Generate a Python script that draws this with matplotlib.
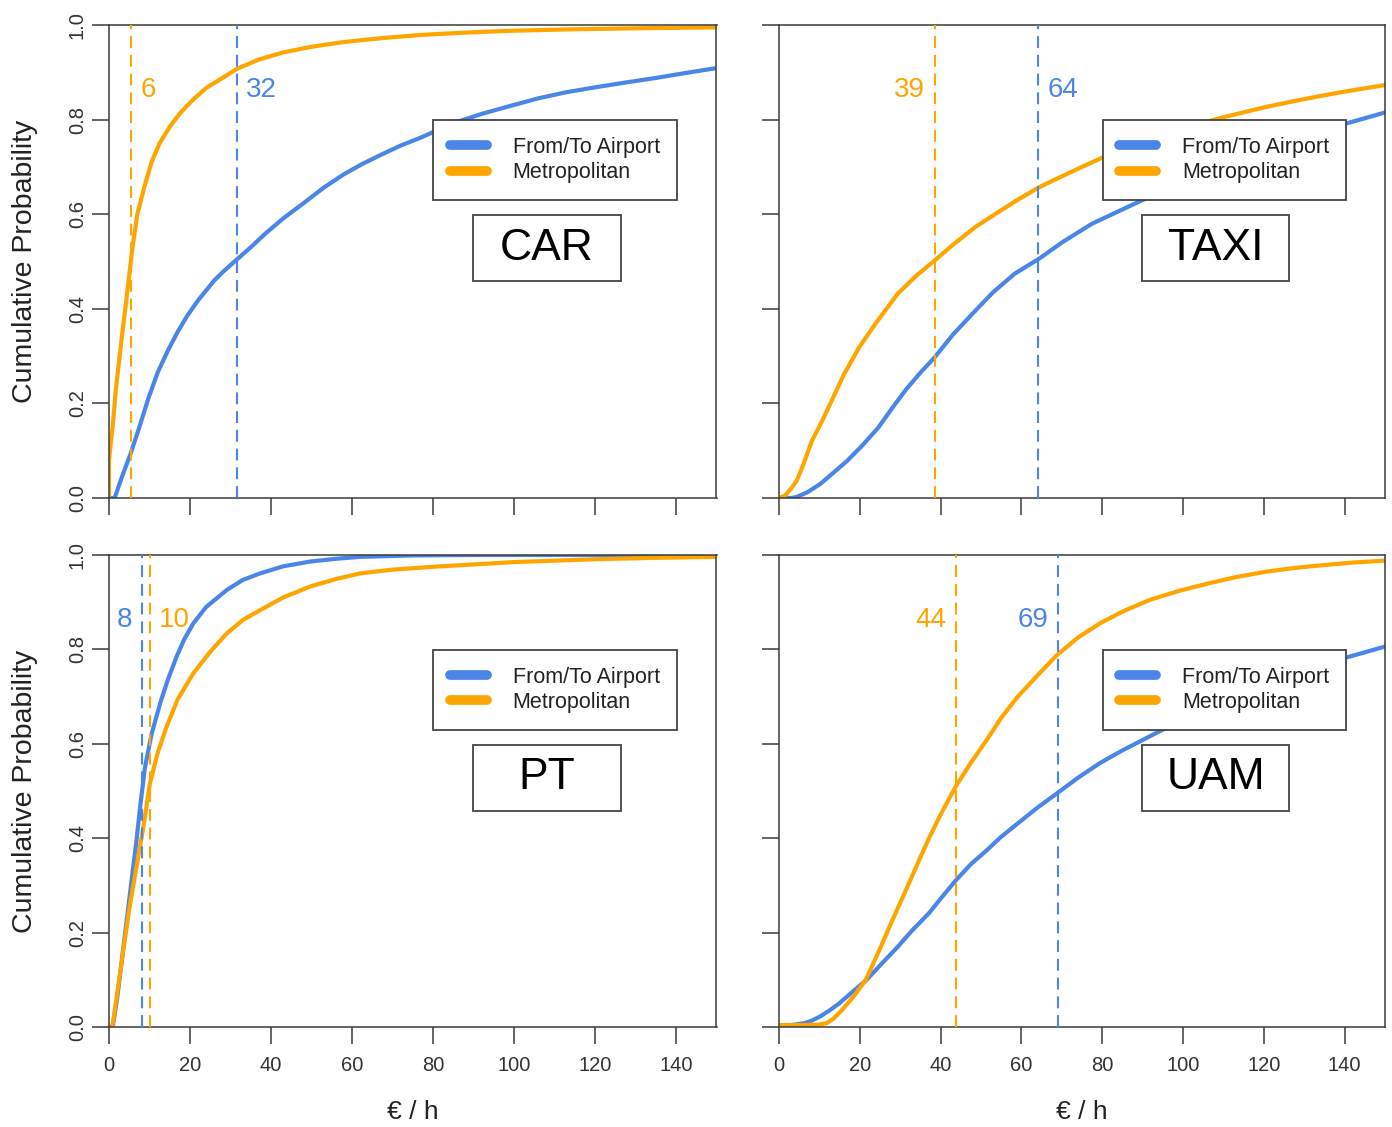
import numpy as np
import matplotlib
matplotlib.use('Agg')
import matplotlib.pyplot as plt
from matplotlib.lines import Line2D
from matplotlib.patches import Rectangle

plt.rcParams['font.family'] = ['Liberation Sans', 'DejaVu Sans']

BLUE = '#4A86E8'
ORANGE = '#FFA500'
DARK = '#3a3a3a'

series_labels = ['From/To Airport', 'Metropolitan']
panel_titles = ['CAR', 'TAXI', 'PT', 'UAM']
x_ticks = [0, 20, 40, 60, 80, 100, 120, 140]
y_ticks = [0.0, 0.2, 0.4, 0.6, 0.8, 1.0]
y_tick_labels = ['0.0', '0.2', '0.4', '0.6', '0.8', '1.0']

# ---- CAR ----
car_air_x = [0.5, 1.4, 3, 5.3, 7.5, 9.7, 12, 14.5, 17, 19.3, 22, 24.1, 26, 28, 31.4, 35, 38.6, 43, 48.3,
             53, 57.9, 62.5, 67.5, 72, 77, 82, 87, 92, 97, 106, 113, 120.6, 128, 135, 142, 150]
car_air_p = [0, 0, 0.04, 0.093, 0.15, 0.21, 0.265, 0.311, 0.352, 0.385, 0.418, 0.44, 0.46, 0.477, 0.503,
             0.53, 0.559, 0.591, 0.625, 0.656, 0.684, 0.706, 0.727, 0.745, 0.762, 0.781, 0.798, 0.812,
             0.824, 0.845, 0.858, 0.869, 0.879, 0.888, 0.898, 0.909]
car_met_x = [0, 0, 0.5, 1, 1.7, 2.5, 3.3, 4.3, 5.8, 7, 8.7, 10.5, 12.5, 15, 17.5, 20.5, 24, 28, 31.5,
             37, 43, 50, 58, 67, 77, 88, 100, 115, 130, 150]
car_met_p = [0, 0.08, 0.12, 0.16, 0.23, 0.29, 0.35, 0.42, 0.53, 0.6, 0.657, 0.71, 0.75, 0.785, 0.813,
             0.84, 0.867, 0.888, 0.907, 0.927, 0.942, 0.954, 0.964, 0.972, 0.979, 0.984, 0.988, 0.991,
             0.993, 0.995]

# ---- TAXI ----
taxi_air_x = [0, 3, 4.3, 7, 10.1, 13, 16.8, 20.5, 24.6, 28, 31.5, 35, 38.5, 43, 48.6, 53, 58.3, 64.4,
              70, 77.5, 84, 90, 100, 110, 120, 130, 140.5, 150]
taxi_air_p = [0, 0, 0.002, 0.012, 0.029, 0.05, 0.078, 0.11, 0.149, 0.19, 0.23, 0.265, 0.297, 0.345,
              0.396, 0.435, 0.474, 0.506, 0.54, 0.58, 0.606, 0.63, 0.664, 0.697, 0.729, 0.76, 0.792, 0.815]
taxi_met_x = [0, 1.5, 3, 4.35, 6, 8.15, 10.5, 13, 16, 19.8, 24, 29.4, 34, 38.5, 43, 48.6, 54, 59, 64.4,
              70, 75, 80.4, 86, 92, 101.5, 110, 120.7, 128, 135.3, 142, 150]
taxi_met_p = [0, 0.005, 0.02, 0.036, 0.07, 0.121, 0.16, 0.205, 0.26, 0.318, 0.37, 0.432, 0.47, 0.502,
              0.535, 0.573, 0.603, 0.63, 0.657, 0.68, 0.70, 0.721, 0.74, 0.758, 0.785, 0.805, 0.827,
              0.84, 0.852, 0.862, 0.873]

# ---- PT ----
pt_air_x = [0.5, 1, 2, 3, 4, 5, 6, 6.8, 7.8, 8.9, 10.5, 12.6, 14.5, 16.7, 18.5, 20.8, 24, 29.1, 33,
            37.3, 43, 49.6, 56, 62, 75, 90, 110, 150]
pt_air_p = [0, 0.005, 0.06, 0.13, 0.2, 0.27, 0.34, 0.396, 0.475, 0.551, 0.62, 0.685, 0.735, 0.785,
            0.82, 0.855, 0.89, 0.926, 0.947, 0.961, 0.976, 0.986, 0.992, 0.996, 0.999, 1.0, 1.0, 1.0]
pt_met_x = [0.7, 1, 2, 3, 4, 5, 6, 7, 8.5, 10.1, 12, 14.2, 17, 20.8, 25, 29.1, 33, 37.3, 43, 49.6, 56,
            62, 70, 80, 90, 100, 120, 135, 150]
pt_met_p = [0, 0.01, 0.07, 0.13, 0.19, 0.25, 0.3, 0.35, 0.424, 0.516, 0.58, 0.636, 0.695, 0.749, 0.795,
            0.834, 0.862, 0.883, 0.91, 0.933, 0.949, 0.961, 0.969, 0.975, 0.98, 0.985, 0.991, 0.994, 0.996]

# ---- UAM ----
uam_air_x = [0, 3, 6.2, 8, 10.1, 12.5, 14.9, 18, 21.7, 25.5, 29.4, 33, 37.1, 40.5, 43.8, 47.5, 51.5, 55,
             59.2, 64, 68.8, 74, 79.4, 85, 90, 95, 105, 115, 125, 133, 140.5, 150]
uam_air_p = [0.004, 0.004, 0.008, 0.013, 0.022, 0.035, 0.05, 0.073, 0.1, 0.135, 0.17, 0.205, 0.241,
             0.277, 0.311, 0.345, 0.375, 0.403, 0.432, 0.465, 0.495, 0.528, 0.559, 0.586, 0.608, 0.63,
             0.665, 0.698, 0.73, 0.757, 0.783, 0.806]
uam_met_x = [0, 5, 10, 11.8, 13.5, 15.6, 18.5, 21.5, 25.2, 28, 31.1, 34, 36.9, 40, 43.7, 47.5, 51.4, 55,
             59.1, 64, 68.8, 74, 79.4, 85, 91.8, 99, 106.4, 113, 120.8, 128, 135.3, 142, 150]
uam_met_p = [0.004, 0.004, 0.005, 0.008, 0.018, 0.036, 0.065, 0.1, 0.17, 0.225, 0.284, 0.34, 0.396,
             0.45, 0.509, 0.56, 0.608, 0.655, 0.70, 0.745, 0.788, 0.825, 0.855, 0.88, 0.905, 0.924,
             0.94, 0.953, 0.965, 0.973, 0.979, 0.984, 0.988]

# medians (Airport, Metropolitan) and their printed labels
car_medians = [31.5, 5.5]
taxi_medians = [64.2, 38.5]
pt_medians = [8.1, 10.0]
uam_medians = [69.0, 43.9]
car_median_labels = ['32', '6']
taxi_median_labels = ['64', '39']
pt_median_labels = ['8', '10']
uam_median_labels = ['69', '44']
# side of the dashed line on which the label sits (+1 right, -1 left)
car_label_side = [1, 1]
taxi_label_side = [1, -1]
pt_label_side = [-1, 1]
uam_label_side = [-1, -1]

panels = [
    (car_air_x, car_air_p, car_met_x, car_met_p, car_medians, car_median_labels, car_label_side),
    (taxi_air_x, taxi_air_p, taxi_met_x, taxi_met_p, taxi_medians, taxi_median_labels, taxi_label_side),
    (pt_air_x, pt_air_p, pt_met_x, pt_met_p, pt_medians, pt_median_labels, pt_label_side),
    (uam_air_x, uam_air_p, uam_met_x, uam_met_p, uam_medians, uam_median_labels, uam_label_side),
]

W, H = 1392, 1127
fig = plt.figure(figsize=(W / 100, H / 100), dpi=100)

rects = [
    [109 / W, 1 - 498 / H, 607.5 / W, 473 / H],
    [779 / W, 1 - 498 / H, 606 / W, 473 / H],
    [109 / W, 1 - 1027 / H, 607.5 / W, 472 / H],
    [779 / W, 1 - 1027 / H, 606 / W, 472 / H],
]

colors = [BLUE, ORANGE]

for i, (rect, pdata, title) in enumerate(zip(rects, panels, panel_titles)):
    ax = fig.add_axes(rect)
    ax_x, ax_p, mt_x, mt_p, meds, med_labels, sides = pdata
    ax.plot(ax_x, ax_p, color=BLUE, lw=3, zorder=2, solid_joinstyle='round')
    ax.plot(mt_x, mt_p, color=ORANGE, lw=3, zorder=2.5, solid_joinstyle='round')
    for m, lab, side, c in zip(meds, med_labels, sides, colors):
        ax.axvline(m, color=c, lw=1.5, linestyle=(0, (5.7, 3.3)), zorder=3)
        ax.annotate(lab, xy=(m, 0.862), xytext=(7 * side, 0), textcoords='offset points',
                    ha='left' if side > 0 else 'right', va='center', color=c, fontsize=20)
    ax.set_xlim(0, 150)
    ax.set_ylim(0, 1)
    ax.set_xticks(x_ticks)
    ax.set_yticks(y_ticks)
    ax.set_yticklabels(y_tick_labels, rotation=90, va='center')
    for s in ax.spines.values():
        s.set_linewidth(1.1)
        s.set_color(DARK)
    ax.tick_params(axis='both', direction='out', length=12, width=1.1, color=DARK,
                   labelcolor='#333333', labelsize=14.5)
    ax.tick_params(axis='x', pad=9)
    ax.tick_params(axis='y', pad=4)
    if i < 2:
        ax.tick_params(axis='x', labelbottom=False)
    else:
        ax.text(0.5, -0.18, '€ / h', transform=ax.transAxes, ha='center', va='center',
                fontsize=19, color='#222222')
    if i % 2 == 1:
        ax.tick_params(axis='y', labelleft=False)
    else:
        ax.text(-0.138, 0.5, 'Cumulative Probability', transform=ax.transAxes, rotation=90,
                ha='center', va='center', fontsize=20.5, color='#222222')

    handles = [Line2D([], [], color=BLUE, lw=7, solid_capstyle='round'),
               Line2D([], [], color=ORANGE, lw=7, solid_capstyle='round')]
    leg = ax.legend(handles, series_labels, loc='upper left', bbox_to_anchor=(0.534, 0.799),
                    bbox_transform=ax.transAxes, borderaxespad=0, fontsize=15.5, frameon=True,
                    fancybox=False, framealpha=1, edgecolor='#444444', handlelength=1.7,
                    handletextpad=1.2, borderpad=0.78, labelspacing=0.2)
    leg.get_frame().set_linewidth(1.3)
    leg.set_zorder(6)
    for t in leg.get_texts():
        t.set_color('#222222')

    box = Rectangle((0.5985, 0.4585), 0.2435, 0.1395, transform=ax.transAxes,
                    facecolor='white', edgecolor='#444444', lw=1.3, zorder=6)
    ax.add_patch(box)
    ax.text(0.5985 + 0.2435 / 2, 0.4585 + 0.1395 / 2, title, transform=ax.transAxes,
            ha='center', va='center', fontsize=32, color='black', zorder=7)

fig.savefig('out.png', dpi=100)
